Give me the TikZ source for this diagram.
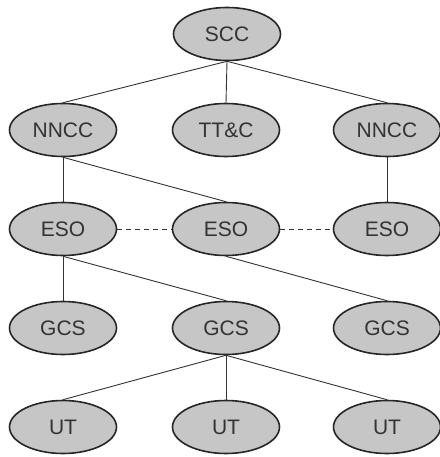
\documentclass[tikz,border=0pt]{standalone}
\usepackage{fontspec}
\setmainfont{Liberation Sans}
\usetikzlibrary{shapes.geometric}
\definecolor{nodefill}{HTML}{C6C6C6}
\definecolor{edgecol}{HTML}{333333}
\tikzset{
  unit/.style={ellipse, draw=black!85, line width=1.6pt, fill=nodefill,
    minimum width=107pt, minimum height=53pt, inner sep=0pt,
    font=\fontsize{21}{24}\selectfont, text=black!80},
  link/.style={draw=edgecol, line width=0.9pt},
  dlink/.style={draw=edgecol, line width=0.9pt, dash pattern=on 5pt off 4pt}
}
\begin{document}
\begin{tikzpicture}[x=1pt,y=-1pt]
\path[use as bounding box, fill=white] (0,0) rectangle (439,457);
\node[unit] (scc) at (227,34) {SCC};
\node[unit] (n1) at (63,130) {NNCC};
\node[unit] (ttc) at (226,130) {TT\&C};
\node[unit] (n2) at (387,130) {NNCC};
\node[unit] (e1) at (63,229) {ESO};
\node[unit] (e2) at (226,229) {ESO};
\node[unit] (e3) at (387,229) {ESO};
\node[unit] (g1) at (63,328) {GCS};
\node[unit] (g2) at (226,328) {GCS};
\node[unit] (g3) at (387,328) {GCS};
\node[unit] (u1) at (63,427) {UT};
\node[unit] (u2) at (226,427) {UT};
\node[unit] (u3) at (387,427) {UT};
\draw[link] (scc.south) -- (n1.north);
\draw[link] (scc.south) -- (ttc.north);
\draw[link] (scc.south) -- (n2.north);
\draw[link] (n1.south) -- (e1.north);
\draw[link] (n1.south) -- (e2.north);
\draw[link] (n2.south) -- (e3.north);
\draw[dlink] (e1.east) -- (e2.west);
\draw[dlink] (e2.east) -- (e3.west);
\draw[link] (e1.south) -- (g1.north);
\draw[link] (e1.south) -- (g2.north);
\draw[link] (e2.south) -- (g3.north);
\draw[link] (g2.south) -- (u1.north);
\draw[link] (g2.south) -- (u2.north);
\draw[link] (g2.south) -- (u3.north);
\end{tikzpicture}
\end{document}
